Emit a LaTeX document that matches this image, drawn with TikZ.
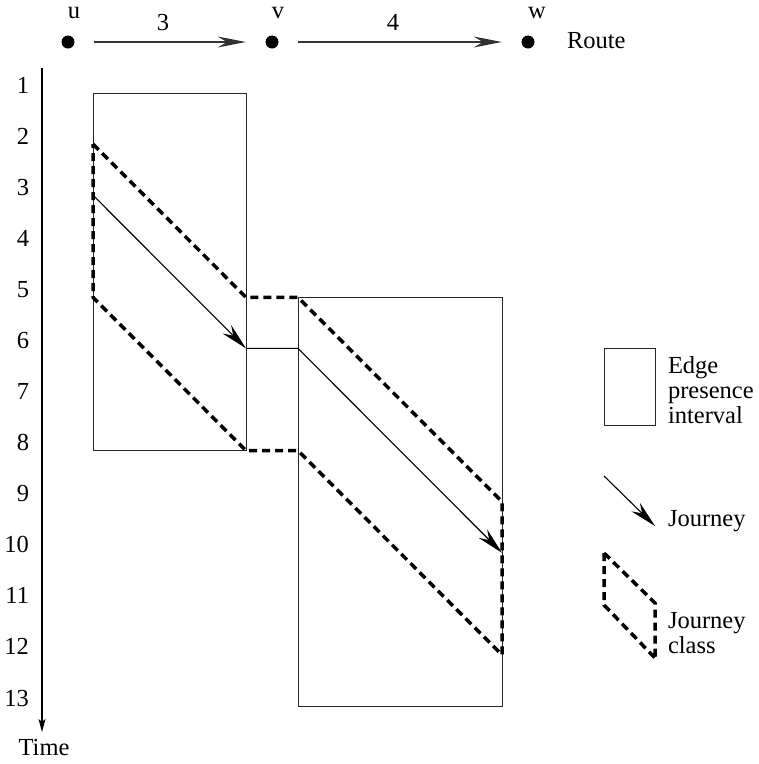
\documentclass[tikz,border=0pt]{standalone}
\usepackage{fontspec}
\setmainfont{Liberation Serif}
\usetikzlibrary{arrows.meta}
\begin{document}
\begin{tikzpicture}[x=1pt,y=-1pt,
  font=\fontsize{24.5}{25}\selectfont,
  txt/.style={inner sep=0pt,outer sep=0pt},
  dot/.style={circle,fill=black,inner sep=0pt,minimum size=13pt},
  route/.style={line width=1.6pt,draw=black!80,
    -{Stealth[length=28pt,width=11pt,inset=9pt]},
    shorten <=19.5pt,shorten >=19.5pt},
  timeaxis/.style={line width=1.1pt,-{Stealth[length=13pt,width=7pt,inset=3pt]}},
  interval/.style={draw=black!85,line width=0.9pt},
  journey/.style={line width=1.1pt,-{Stealth[length=27pt,width=12pt,inset=9pt]}},
  jclass/.style={line width=3.5pt,dash pattern=on 8pt off 5pt}
]
\useasboundingbox (0,0) rectangle (759,764);

% route u -> v -> w
\node[dot] (u) at (68,42) {};
\node[dot] (v) at (272,42) {};
\node[dot] (w) at (528,42) {};
\node[txt,anchor=base] (ulbl) at (74,18) {u};
\node[txt,anchor=base] (vlbl) at (278,18) {v};
\node[txt,anchor=base] (wlbl) at (537,18) {w};
\draw[route] (u) -- (v);
\draw[route] (v) -- (w);
\node[txt,anchor=base] (len1) at (163,30) {3};
\node[txt,anchor=base] (len2) at (393,30) {4};
\node[txt,anchor=base west] (routelbl) at (567,48) {Route};

% time axis
\coordinate (axtop) at (42,68);
\coordinate (axbot) at (42,732);
\draw[timeaxis] (axtop) -- (axbot);
\node[txt,anchor=base] (timelbl) at (44,755) {Time};
\foreach \t/\y in {1/93,2/144.1,3/195.2,4/246.2,5/297.3,6/348.4,7/399.5,
                   8/450.6,9/501.7,10/552.8,11/603.8,12/654.9,13/706}
  \node[txt,anchor=base east] (tick\t) at (29,\y) {\t};

% edge presence intervals
\coordinate (a1) at (93,93);
\coordinate (a2) at (246,450.6);
\coordinate (b1) at (298,297.3);
\coordinate (b2) at (502,706);
\draw[interval] (a1) rectangle (a2);
\draw[interval] (b1) rectangle (b2);

% journey class
\coordinate (c1) at (93,144.1);
\coordinate (c2) at (246,297.3);
\coordinate (c3) at (298,297.3);
\coordinate (c4) at (502,501.7);
\coordinate (c5) at (502,654.9);
\coordinate (c6) at (298,450.6);
\coordinate (c7) at (246,450.6);
\coordinate (c8) at (93,297.3);
\draw[jclass] (c1) -- (c2) -- (c3) -- (c4) -- (c5) -- (c6) -- (c7) -- (c8) -- cycle;

% journey
\coordinate (j1) at (93,195.2);
\coordinate (j2) at (246,348.4);
\coordinate (j3) at (298,348.4);
\coordinate (j4) at (502,552.8);
\draw[journey] (j1) -- (j2);
\draw[journey] (j2) -- (j3) -- (j4);

% legend (base anchor of a multi-line node sits on its last line)
\coordinate (l1) at (604,348);
\coordinate (l2) at (655,425);
\draw[interval] (l1) rectangle (l2);
\node[txt,anchor=base west,align=left] (leg1) at (668,423) {Edge\\presence\\interval};

\coordinate (m1) at (604,476);
\coordinate (m2) at (655,526);
\draw[journey] (m1) -- (m2);
\node[txt,anchor=base west] (leg2) at (668,526) {Journey};

\coordinate (n1) at (604,553);
\coordinate (n2) at (655,603);
\coordinate (n3) at (655,658);
\coordinate (n4) at (604,605);
\draw[jclass] (n1) -- (n2) -- (n3) (n1) -- (n4) -- (n3);
\node[txt,anchor=base west,align=left] (leg3) at (668,653) {Journey\\class};
\end{tikzpicture}
\end{document}
